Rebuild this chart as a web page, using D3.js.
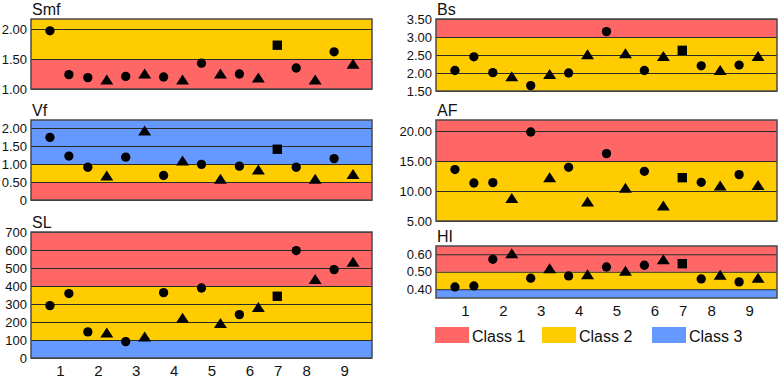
<!DOCTYPE html>
<html>
<head>
<meta charset="utf-8">
<script src="https://cdn.jsdelivr.net/npm/d3@7"></script>
<style>
  body { margin: 0; background: #fff; }
  svg { display: block; font-family: "Liberation Sans", Arial, sans-serif; }
</style>
</head>
<body>
<svg id="chart" width="782" height="378"></svg>
<script>
// sample groups (x axis) and marker shape of every point
const groupLabels = ['1', '2', '3', '4', '5', '6', '7', '8', '9']
const pointGroups = [1, 1, 2, 2, 3, 3, 4, 4, 5, 5, 6, 6, 7, 8, 8, 9, 9]
const pointShapes = ['circle', 'circle', 'circle', 'triangle', 'circle', 'triangle', 'circle', 'triangle',
  'circle', 'triangle', 'circle', 'triangle', 'square', 'circle', 'triangle', 'circle', 'triangle']

// values per index
const smfValues = [1.97, 1.24, 1.19, 1.16, 1.21, 1.26, 1.20, 1.16, 1.43, 1.26, 1.25, 1.19, 1.73, 1.35, 1.16, 1.62, 1.42]
const vfValues = [1.74, 1.22, 0.91, 0.68, 1.19, 1.93, 0.68, 1.10, 0.99, 0.59, 0.94, 0.85, 1.41, 0.91, 0.59, 1.15, 0.72]
const slValues = [291, 358, 145, 141, 91, 120, 363, 224, 389, 194, 241, 283, 343, 597, 439, 491, 535]
const bsValues = [2.07, 2.45, 2.01, 1.91, 1.65, 1.97, 2.00, 2.52, 3.15, 2.55, 2.07, 2.47, 2.63, 2.20, 2.08, 2.22, 2.47]
const afValues = [13.57, 11.33, 11.40, 8.83, 19.83, 12.28, 13.95, 8.23, 16.23, 10.55, 13.28, 7.57, 12.22, 11.45, 10.90, 12.73, 11.00]
const hiValues = [0.413, 0.419, 0.571, 0.606, 0.463, 0.520, 0.476, 0.486, 0.527, 0.506, 0.537, 0.571, 0.546, 0.459, 0.483, 0.442, 0.465]

// class colours and legend
const classNames = ['Class 1', 'Class 2', 'Class 3']
const classColors = { 1: '#ff6666', 2: '#ffcc00', 3: '#6699ff' }

// panel layout (left column / right column)
const panels = [
  { name: 'Smf', values: smfValues, col: 0, top: 19, bottom: 89, domain: [1.0, 2.167],
    ticks: [1.0, 1.5, 2.0], fmt: '.2f', bands: [[1.0, 1.5, 1], [1.5, 2.167, 2]] },
  { name: 'Vf', values: vfValues, col: 0, top: 120, bottom: 200, domain: [0, 2.222],
    ticks: [0, 0.5, 1.0, 1.5, 2.0], fmt: '.2f', bands: [[0, 0.5, 1], [0.5, 1.0, 2], [1.0, 2.222, 3]] },
  { name: 'SL', values: slValues, col: 0, top: 232, bottom: 358, domain: [0, 700],
    ticks: [0, 100, 200, 300, 400, 500, 600, 700], fmt: 'd', bands: [[0, 100, 3], [100, 400, 2], [400, 700, 1]], xAxis: true },
  { name: 'Bs', values: bsValues, col: 1, top: 19, bottom: 91, domain: [1.5, 3.5],
    ticks: [1.5, 2.0, 2.5, 3.0, 3.5], fmt: '.2f', bands: [[1.5, 3.0, 2], [3.0, 3.5, 1]] },
  { name: 'AF', values: afValues, col: 1, top: 120, bottom: 221, domain: [5, 21.83],
    ticks: [5, 10, 15, 20], fmt: '.2f', bands: [[5, 15, 2], [15, 21.83, 1]] },
  { name: 'HI', values: hiValues, col: 1, top: 246, bottom: 298, domain: [0.35, 0.647],
    ticks: [0.4, 0.5, 0.6], fmt: '.2f', bands: [[0.35, 0.4, 3], [0.4, 0.5, 2], [0.5, 0.647, 1]], xAxis: true }
]

const colLeft = [31, 436]
const plotWidth = 341

const svg = d3.select('#chart')

// flat triangle, centred on its bounding box
const flatTriangle = {
  draw (context) {
    context.moveTo(0, -5)
    context.lineTo(6.5, 5)
    context.lineTo(-6.5, 5)
    context.closePath()
  }
}

const symbolFor = {
  circle: d3.symbol().type(d3.symbolCircle).size(68),
  triangle: d3.symbol().type(flatTriangle),
  square: d3.symbol().type(d3.symbolSquare).size(88)
}

panels.forEach((p) => {
  const x0 = colLeft[p.col]
  const xScale = d3.scalePoint()
    .domain(d3.range(pointGroups.length))
    .range([x0, x0 + plotWidth])
    .padding(1)
  const yScale = d3.scaleLinear().domain(p.domain).range([p.bottom, p.top])
  const fmt = p.fmt === 'd' ? d3.format('d') : (v) => (v === 0 ? '0' : d3.format(p.fmt)(v))

  const g = svg.append('g').attr('class', 'panel')

  // class bands
  g.selectAll('.band')
    .data(p.bands)
    .join('rect')
    .attr('class', 'band')
    .attr('x', x0)
    .attr('width', plotWidth)
    .attr('y', (d) => yScale(d[1]))
    .attr('height', (d) => yScale(d[0]) - yScale(d[1]))
    .attr('fill', (d) => classColors[d[2]])

  // y axis with grid lines
  const yAxis = d3.axisLeft(yScale)
    .tickValues(p.ticks)
    .tickFormat(fmt)
    .tickSizeInner(-plotWidth)
    .tickSizeOuter(0)
    .tickPadding(4)
  g.append('g')
    .attr('transform', `translate(${x0},0)`)
    .call(yAxis)
    .call((ax) => ax.select('.domain').remove())
    .call((ax) => ax.selectAll('.tick line').attr('stroke', '#2a2a2a').attr('stroke-width', 1.2))
    .call((ax) => ax.selectAll('.tick text')
      .attr('fill', '#111')
      .style('font-size', '13px')
      .style('font-family', '"Liberation Sans", Arial, sans-serif'))

  // border
  g.append('rect')
    .attr('x', x0)
    .attr('y', p.top)
    .attr('width', plotWidth)
    .attr('height', p.bottom - p.top)
    .attr('fill', 'none')
    .attr('stroke', '#4a4a4a')
    .attr('stroke-width', 1.5)

  // title
  g.append('text')
    .attr('x', x0 + 1)
    .attr('y', p.top - 4)
    .attr('fill', '#111')
    .style('font-size', '16px')
    .text(p.name)

  // markers
  g.selectAll('.pt')
    .data(p.values)
    .join('path')
    .attr('class', 'pt')
    .attr('d', (d, i) => symbolFor[pointShapes[i]]())
    .attr('transform', (d, i) => `translate(${xScale(i)},${yScale(d)})`)
    .attr('fill', '#000')

  // x axis labels at the centre of each group
  if (p.xAxis) {
    g.selectAll('.xlab')
      .data(groupLabels)
      .join('text')
      .attr('class', 'xlab')
      .attr('x', (d, k) => {
        const idx = d3.range(pointGroups.length).filter((i) => pointGroups[i] === k + 1)
        return d3.mean(idx, (i) => xScale(i)) + 1
      })
      .attr('y', p.bottom + 18)
      .attr('text-anchor', 'middle')
      .attr('fill', '#111')
      .style('font-size', '15px')
      .text((d) => d)
  }
})

// legend
const legendX = [435, 542, 652]
const legend = svg.append('g').attr('class', 'legend')
classNames.forEach((name, i) => {
  legend.append('rect')
    .attr('x', legendX[i])
    .attr('y', 327)
    .attr('width', 34)
    .attr('height', 16)
    .attr('fill', classColors[i + 1])
  legend.append('text')
    .attr('x', legendX[i] + 37)
    .attr('y', 342)
    .attr('fill', '#111')
    .style('font-size', '16px')
    .text(name)
})
</script>
</body>
</html>
